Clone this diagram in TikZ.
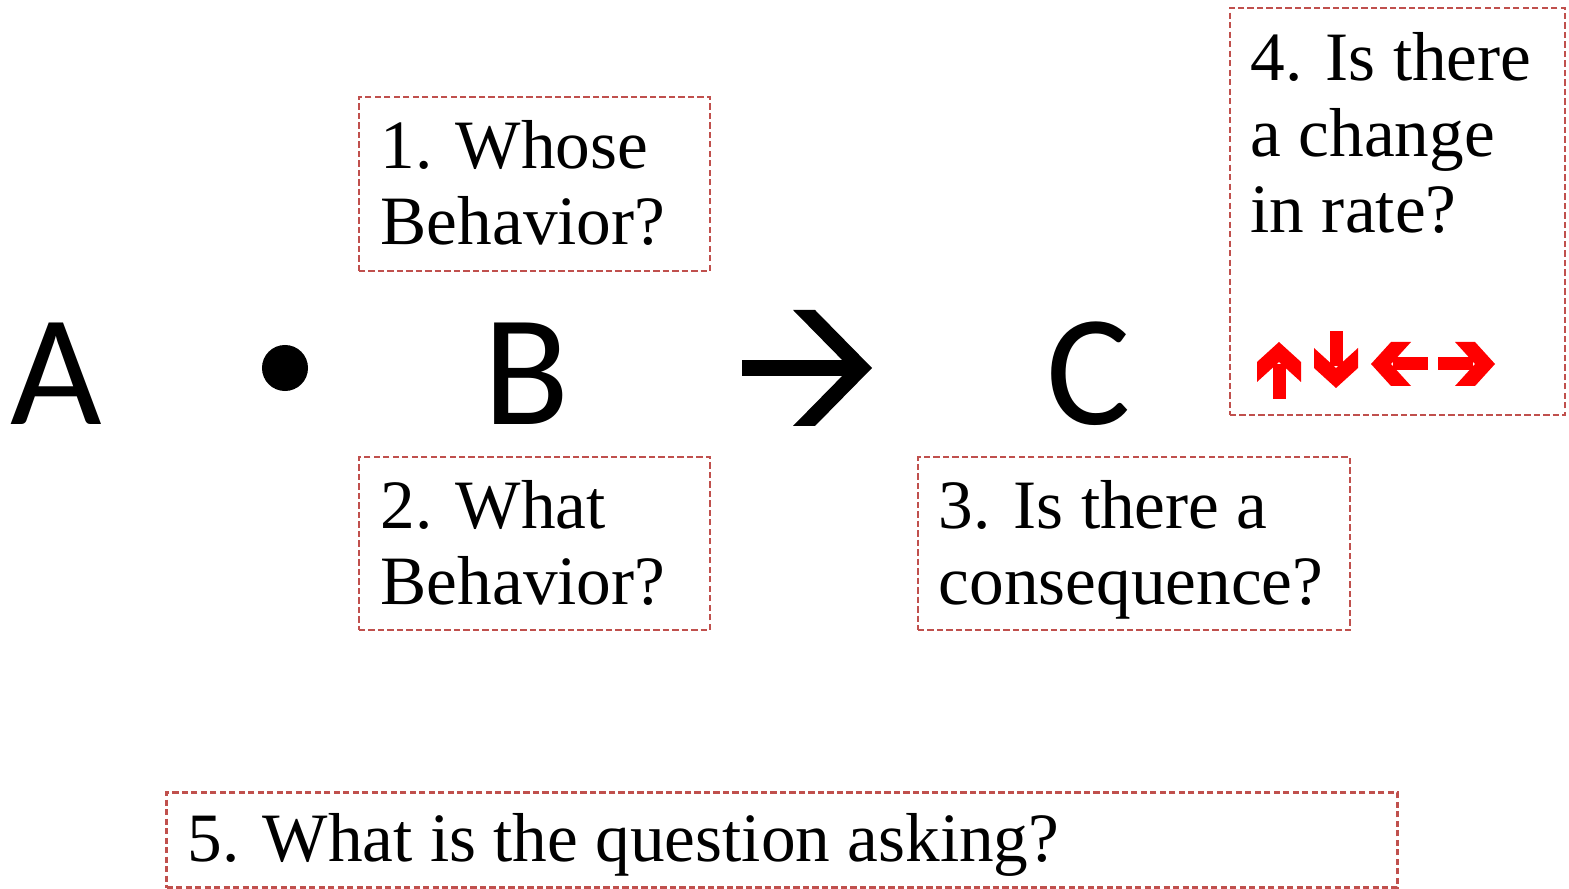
\documentclass[tikz,border=0pt]{standalone}
\usepackage{fontspec}
\setmainfont{Liberation Serif}
\newfontfamily\letterfont{Carlito}
\usetikzlibrary{positioning}
\definecolor{boxred}{RGB}{192,80,77}

\begin{document}
\begin{tikzpicture}[x=0.01cm, y=-0.01cm,
        qbox/.style={rectangle, draw=boxred, line width=0.75pt,
                     dash pattern=on 1.8pt off 0.9pt, inner sep=0pt},
        qtext/.style={anchor=base west, align=left, inner sep=0pt,
                      font=\fontsize{19.7}{21.7}\selectfont},
        letter/.style={anchor=base, inner sep=0pt,
                       font=\letterfont\fontsize{45}{45}\selectfont},
        ratearrow/.pic={
            \fill[red] (0,0) -- (-20,-22) -- (-40,-22) -- (-20,0)
                -- (-40,22) -- (-20,22) -- cycle;
            \fill[red] (-57,-6.5) rectangle (-22,6.5);
        }
    ]
    \useasboundingbox (0,0) rectangle (1569,889);

    % A . B -> C
    \node[letter] (A) at (56.5,425) {A};
    \node[circle, fill, minimum size=0.46cm, inner sep=0pt] (dot) at (285,368) {};
    \node[letter] (B) at (526.5,425) {B};
    \fill (742,360) rectangle (855,376);
    \fill (872,368) -- (815,310) -- (793,310) -- (850,368)
        -- (793,426) -- (815,426) -- cycle;
    \node[letter] (C) at (1088.5,425) {C};

    % question boxes (base anchor = last line)
    \node[qbox, minimum width=3.51cm, minimum height=1.74cm] (q1box) at (534.5,184) {};
    \node[qtext] (q1) at (380,245) {1. Whose\\Behavior?};

    \node[qbox, minimum width=3.51cm, minimum height=1.73cm] (q2box) at (534.5,543.5) {};
    \node[qtext] (q2) at (380,605) {2. What\\Behavior?};

    \node[qbox, minimum width=4.32cm, minimum height=1.73cm] (q3box) at (1134,543.5) {};
    \node[qtext] (q3) at (938,605) {3. Is there a\\consequence?};

    \node[qbox, minimum width=3.35cm, minimum height=4.07cm] (q4box) at (1397.5,211.5) {};
    \node[qtext] (q4) at (1250,233) {4. Is there\\a change\\in rate?};
    \pic[rotate=90]  at (1279,342) {ratearrow};
    \pic[rotate=-90] at (1336,388) {ratearrow};
    \pic[rotate=180] at (1371,364) {ratearrow};
    \pic             at (1495,364) {ratearrow};

    \node[qbox, minimum width=12.30cm, minimum height=0.95cm] (q5box) at (782,840) {};
    \node[qtext] (q5) at (187,862) {5. What is the question asking?};
\end{tikzpicture}
\end{document}
